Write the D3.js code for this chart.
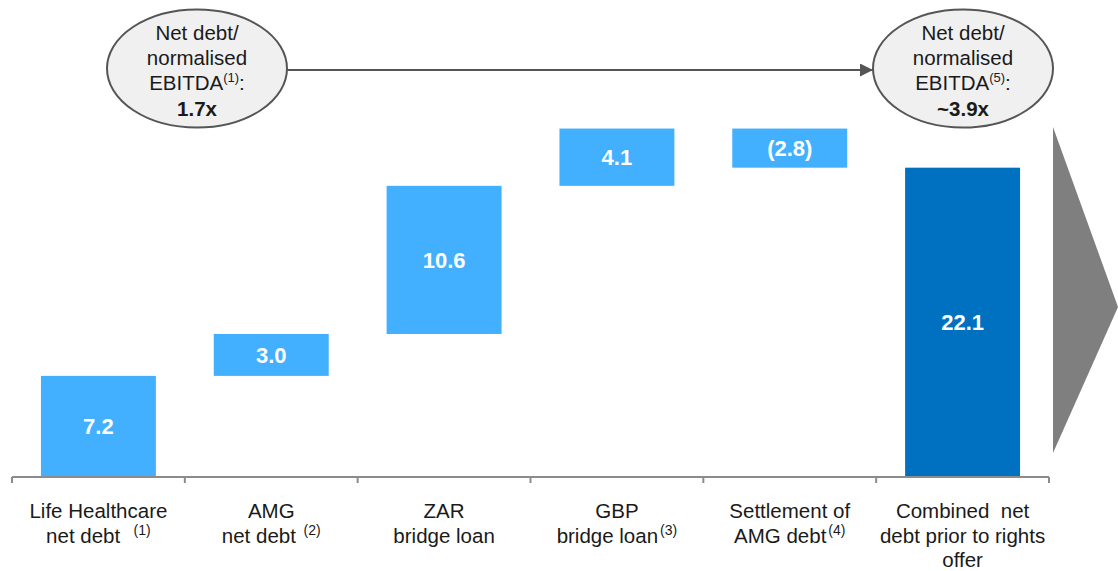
<!DOCTYPE html>
<html>
<head>
<meta charset="utf-8">
<script src="https://cdn.jsdelivr.net/npm/d3@7"></script>
<style>
  html, body { margin: 0; padding: 0; background: #fff; }
  svg { display: block; font-family: "Liberation Sans", Arial, sans-serif; }
</style>
</head>
<body>
<svg id="chart" width="1118" height="571"></svg>
<script>
// ---- data ----
const categories = ["lhc", "amg", "zar", "gbp", "settle", "combined"];
const labelLines = [
  [["Life Healthcare", ""], ["net debt\u00a0\u00a0", "(1)"]],
  [["AMG", ""], ["net debt ", "(2)"]],
  [["ZAR", ""], ["bridge loan", ""]],
  [["GBP", ""], ["bridge loan", "(3)"]],
  [["Settlement of", ""], ["AMG debt", "(4)"]],
  [["Combined\u00a0 net", ""], ["debt prior to rights", ""], ["offer", ""]]
];
const values = [7.2, 3.0, 10.6, 4.1, -2.8, 22.1];
const valueLabels = ["7.2", "3.0", "10.6", "4.1", "(2.8)", "22.1"];
const isTotal = [false, false, false, false, false, true];
const bubbleLeft = ["Net debt/", "normalised", "EBITDA", "(1)", ":", "1.7x"];
const bubbleRight = ["Net debt/", "normalised", "EBITDA", "(5)", ":", "~3.9x"];

// ---- layout ----
const svg = d3.select("#chart");
const lightBlue = "#42AFFF";
const darkBlue = "#0070C0";
const axisY = 477;

const x = d3.scaleBand().domain(categories).range([12, 1049])
  .paddingInner(0.335).paddingOuter(0.335 / 2);
const y = d3.scaleLinear().domain([0, 34.1]).range([476.5, 0]);

// cumulative waterfall
let run = 0;
const bars = categories.map((c, i) => {
  let start, end;
  if (isTotal[i]) { start = 0; end = values[i]; }
  else { start = run; end = run + values[i]; run = end; }
  return { c, i, lo: Math.min(start, end), hi: Math.max(start, end) };
});

svg.append("g").selectAll("rect").data(bars).join("rect")
  .attr("x", d => x(d.c))
  .attr("width", x.bandwidth())
  .attr("y", d => y(d.hi))
  .attr("height", d => y(d.lo) - y(d.hi))
  .attr("fill", d => isTotal[d.i] ? darkBlue : lightBlue);

svg.append("g").selectAll("text").data(bars).join("text")
  .attr("x", d => x(d.c) + x.bandwidth() / 2)
  .attr("y", d => (y(d.hi) + y(d.lo)) / 2)
  .attr("dy", "0.36em")
  .attr("text-anchor", "middle")
  .attr("fill", "#fff")
  .attr("font-weight", "bold")
  .attr("font-size", 22)
  .text(d => valueLabels[d.i]);

// axis
const step = x.step();
const x0 = x.range()[0];
svg.append("line").attr("x1", x0).attr("x2", x0 + step * categories.length)
  .attr("y1", axisY).attr("y2", axisY)
  .attr("stroke", "#8c8c8c").attr("stroke-width", 2);
svg.append("g").selectAll("line").data(d3.range(categories.length + 1)).join("line")
  .attr("x1", i => x0 + i * step).attr("x2", i => x0 + i * step)
  .attr("y1", axisY).attr("y2", axisY + 6)
  .attr("stroke", "#8c8c8c").attr("stroke-width", 2);

// category labels
const labG = svg.append("g").attr("font-size", 20.5).attr("fill", "#1a1a1a");
categories.forEach((c, i) => {
  const cx = x(c) + x.bandwidth() / 2;
  labelLines[i].forEach((ln, j) => {
    const t = labG.append("text").attr("x", cx).attr("y", 518 + j * 24.5)
      .attr("text-anchor", "middle");
    t.append("tspan").text(ln[0]);
    if (ln[1]) {
      t.append("tspan").attr("font-size", 14).attr("dy", -8).attr("dx", 2).text(ln[1]);
    }
  });
});

// bubbles
function bubble(cx, lines) {
  const g = svg.append("g");
  g.append("ellipse").attr("cx", cx).attr("cy", 68.5).attr("rx", 90).attr("ry", 59)
    .attr("fill", "#f0f0f0").attr("stroke", "#555").attr("stroke-width", 2);
  const t = g.append("g").attr("font-size", 20.5).attr("fill", "#1a1a1a").attr("text-anchor", "middle");
  t.append("text").attr("x", cx).attr("y", 40).text(lines[0]);
  t.append("text").attr("x", cx).attr("y", 65).text(lines[1]);
  const e = t.append("text").attr("x", cx).attr("y", 90);
  e.append("tspan").text(lines[2]);
  e.append("tspan").attr("font-size", 13).attr("dy", -8).text(lines[3]);
  e.append("tspan").attr("dy", 8).text(lines[4]);
  t.append("text").attr("x", cx).attr("y", 116).attr("font-weight", "bold").text(lines[5]);
}
bubble(197, bubbleLeft);
bubble(963, bubbleRight);

// connector arrow
svg.append("defs").append("marker").attr("id", "ah")
  .attr("viewBox", "0 0 10 10").attr("refX", 10).attr("refY", 5)
  .attr("markerWidth", 16).attr("markerHeight", 13).attr("markerUnits", "userSpaceOnUse")
  .attr("orient", "auto")
  .append("path").attr("d", "M0,0 L10,5 L0,10 Z").attr("fill", "#555");
svg.append("line").attr("x1", 287).attr("x2", 873).attr("y1", 70).attr("y2", 70)
  .attr("stroke", "#555").attr("stroke-width", 2).attr("marker-end", "url(#ah)");

// big gray chevron
svg.append("path").attr("d", "M1053,127 L1118,307 L1053,453 Z").attr("fill", "#7f7f7f");
</script>
</body>
</html>
